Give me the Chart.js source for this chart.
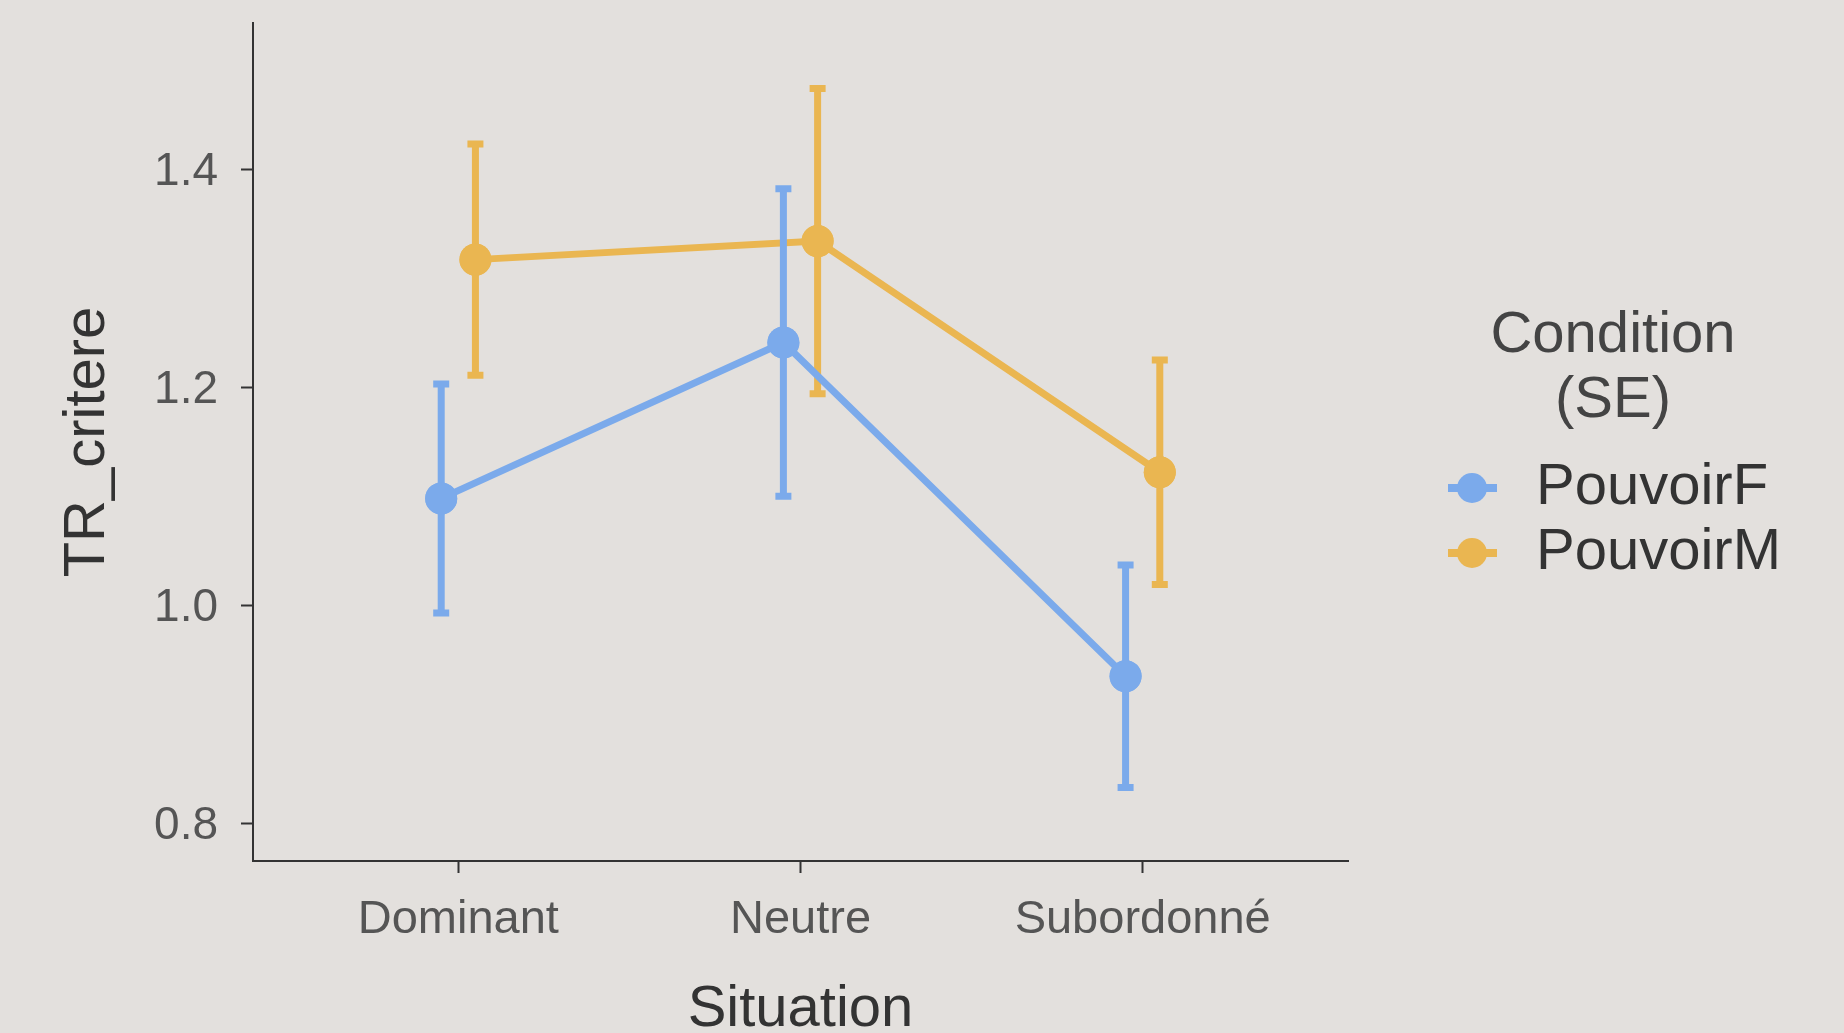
<!DOCTYPE html>
<html>
<head>
<meta charset="utf-8">
<script src="https://cdn.jsdelivr.net/npm/chart.js@4.4.1/dist/chart.umd.min.js"></script>
<style>
  html, body { margin: 0; padding: 0; background: #e3e0dd; overflow: hidden; }
  #wrap { width: 1844px; height: 1033px; }
</style>
</head>
<body>
<div id="wrap"><canvas id="chart"></canvas></div>
<script>
// data
const situations = ['Dominant', 'Neutre', 'Subordonné'];
const conditions = ['PouvoirF', 'PouvoirM'];
const meanF = [1.098, 1.241, 0.935];
const seF = [0.105, 0.141, 0.102];
const meanM = [1.317, 1.334, 1.122];
const seM = [0.106, 0.140, 0.103];
const yTicks = [0.8, 1.0, 1.2, 1.4];

const colors = ['#7baaeb', '#eab651'];
const bg = '#e3e0dd';
const dodge = 0.05;
const fontFamily = '"Liberation Sans", Arial, sans-serif';

function makeSeries(means, offset) {
  return means.map((m, i) => ({ x: i + offset, y: m }));
}

const datasets = [
  { label: conditions[0], data: makeSeries(meanF, -dodge), se: seF },
  { label: conditions[1], data: makeSeries(meanM, dodge), se: seM }
].map((d, i) => Object.assign(d, {
  borderColor: colors[i],
  backgroundColor: colors[i],
  borderWidth: 7,
  pointRadius: 16,
  pointHoverRadius: 16,
  pointBorderWidth: 0,
  pointBackgroundColor: colors[i],
  tension: 0
}));

// background
const bgPlugin = {
  id: 'bg',
  beforeDraw(chart) {
    const ctx = chart.ctx;
    ctx.save();
    ctx.fillStyle = bg;
    ctx.fillRect(0, 0, chart.width, chart.height);
    ctx.restore();
  }
};

// standard error bars, drawn per series right after its line, then the points again on top
const errorBars = {
  id: 'errorBars',
  afterDatasetDraw(chart, args) {
    const ctx = chart.ctx;
    const xs = chart.scales.x, ys = chart.scales.y;
    const ds = chart.data.datasets[args.index];
    ctx.save();
    ctx.strokeStyle = ds.borderColor;
    ctx.lineWidth = 7;
    ds.data.forEach((p, j) => {
      const x = xs.getPixelForValue(p.x);
      const yHi = ys.getPixelForValue(p.y + ds.se[j]);
      const yLo = ys.getPixelForValue(p.y - ds.se[j]);
      ctx.beginPath();
      ctx.moveTo(x, yHi);
      ctx.lineTo(x, yLo);
      ctx.moveTo(x - 8, yHi);
      ctx.lineTo(x + 8, yHi);
      ctx.moveTo(x - 8, yLo);
      ctx.lineTo(x + 8, yLo);
      ctx.stroke();
    });
    ctx.restore();
    args.meta.data.forEach(pt => pt.draw(ctx, chart.chartArea));
  }
};

// legend at the right, ggplot style
const sideLegend = {
  id: 'sideLegend',
  afterDraw(chart) {
    const ctx = chart.ctx;
    ctx.save();
    ctx.font = '58px ' + fontFamily;
    ctx.textBaseline = 'middle';
    ctx.textAlign = 'center';
    ctx.fillStyle = '#444';
    ctx.fillText('Condition', 1613, 336);
    ctx.fillText('(SE)', 1613, 401);
    ctx.textAlign = 'left';
    chart.data.datasets.forEach((ds, i) => {
      const y = 488 + i * 65;
      ctx.strokeStyle = ds.borderColor;
      ctx.lineWidth = 8;
      ctx.beginPath();
      ctx.moveTo(1448, y);
      ctx.lineTo(1497, y);
      ctx.stroke();
      ctx.fillStyle = ds.borderColor;
      ctx.beginPath();
      ctx.arc(1472, y, 15, 0, Math.PI * 2);
      ctx.fill();
      ctx.fillStyle = '#333';
      ctx.fillText(ds.label, 1536, y);
    });
    ctx.restore();
  }
};

function zeroPad(scale) {
  scale.paddingTop = 0;
  scale.paddingBottom = 0;
  scale.paddingLeft = 0;
  scale.paddingRight = 0;
}

new Chart(document.getElementById('chart'), {
  type: 'line',
  data: { datasets },
  plugins: [bgPlugin, errorBars, sideLegend],
  options: {
    responsive: true,
    maintainAspectRatio: false,
    devicePixelRatio: 1,
    animation: false,
    layout: { padding: { top: 23, right: 496, bottom: 0, left: 0 } },
    plugins: {
      legend: { display: false },
      tooltip: { enabled: false }
    },
    scales: {
      x: {
        type: 'linear',
        min: -0.6,
        max: 2.6,
        afterBuildTicks: s => { s.ticks = situations.map((_, i) => ({ value: i })); },
        afterFit: s => { s.height = 172; zeroPad(s); },
        ticks: {
          callback: v => situations[v],
          font: { family: fontFamily, size: 47 },
          color: '#555',
          padding: 19,
          maxRotation: 0,
          autoSkip: false
        },
        grid: {
          drawOnChartArea: false,
          drawTicks: true,
          tickLength: 12,
          tickColor: '#333',
          tickWidth: 2
        },
        border: { display: true, color: '#333', width: 2 },
        title: {
          display: true,
          text: 'Situation',
          color: '#333',
          font: { family: fontFamily, size: 58, lineHeight: 0.8 },
          padding: { top: 0, bottom: 0 }
        }
      },
      y: {
        type: 'linear',
        min: 0.7655,
        max: 1.534,
        afterBuildTicks: s => { s.ticks = yTicks.map(v => ({ value: v })); },
        afterFit: s => { s.width = 253; zeroPad(s); },
        ticks: {
          callback: v => v.toFixed(1),
          font: { family: fontFamily, size: 46 },
          color: '#555',
          padding: 23,
          labelOffset: 3
        },
        grid: {
          drawOnChartArea: false,
          drawTicks: true,
          tickLength: 12,
          tickColor: '#333',
          tickWidth: 2
        },
        border: { display: true, color: '#333', width: 2 },
        title: {
          display: true,
          text: 'TR_critere',
          color: '#333',
          font: { family: fontFamily, size: 58, lineHeight: 1 },
          padding: { top: 59, bottom: 0 }
        }
      }
    }
  }
});
</script>
</body>
</html>
